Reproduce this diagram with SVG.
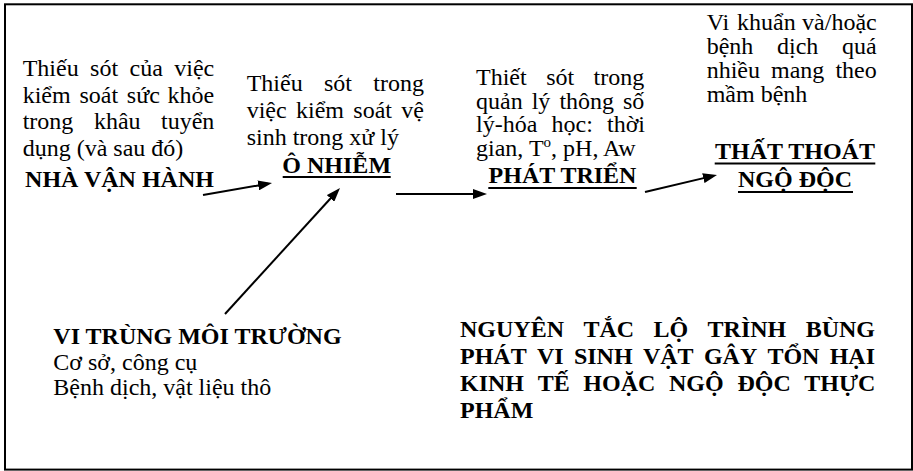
<svg xmlns="http://www.w3.org/2000/svg" width="913" height="471" viewBox="0 0 913 471">
  <style>
    text { font-family: "Liberation Serif", "Times New Roman", serif; font-size: 24px; fill: #000; }
    .b { font-weight: bold; }
    .frame { fill: #fff; stroke: #000; stroke-width: 2; }
    .ul { stroke: #000; stroke-width: 2; }
    .conn { stroke: #000; stroke-width: 2; fill: none; marker-end: url(#head); }
  </style>
  <defs>
    <marker id="head" markerUnits="userSpaceOnUse" markerWidth="14" markerHeight="10" refX="10" refY="5" orient="auto">
      <path d="M0,0 L14,5 L0,10 z" fill="#000"/>
    </marker>
  </defs>

  <rect class="frame" x="5" y="4.3" width="907" height="465.3"/>

  <!-- operator source -->
  <g id="nha-van-hanh">
    <text y="76"><tspan x="22.7">Thiếu</tspan><tspan x="90.1">sót</tspan><tspan x="129.5">của</tspan><tspan x="174.3">việc</tspan></text>
    <text y="102.7"><tspan x="22.7">kiểm</tspan><tspan x="79.4">soát</tspan><tspan x="126.8">sức</tspan><tspan x="167.6">khỏe</tspan></text>
    <text y="129.3"><tspan x="22.7">trong</tspan><tspan x="93.9">khâu</tspan><tspan x="161">tuyển</tspan></text>
    <text x="22.7" y="156">dụng (và sau đó)</text>
    <text class="b" x="119.5" y="186.5" text-anchor="middle">NHÀ VẬN HÀNH</text>
  </g>

  <!-- contamination -->
  <g id="o-nhiem">
    <text y="91"><tspan x="246.7">Thiếu</tspan><tspan x="324">sót</tspan><tspan x="373.3">trong</tspan></text>
    <text y="118"><tspan x="246.7">việc</tspan><tspan x="296">kiểm</tspan><tspan x="353.3">soát</tspan><tspan x="401.3">vệ</tspan></text>
    <text x="246.7" y="145">sinh trong xử lý</text>
    <text class="b" x="336.7" y="172.5" text-anchor="middle">Ô NHIỄM</text>
    <line class="ul" x1="282.7" y1="177" x2="390.7" y2="177"/>
  </g>

  <!-- growth -->
  <g id="phat-trien">
    <text y="85"><tspan x="476">Thiết</tspan><tspan x="546.2">sót</tspan><tspan x="593.6">trong</tspan></text>
    <text y="108.5"><tspan x="476">quản</tspan><tspan x="531.7">lý</tspan><tspan x="559.4">thông</tspan><tspan x="623">số</tspan></text>
    <text y="132"><tspan x="476">lý-hóa</tspan><tspan x="551.5">học:</tspan><tspan x="607">thời</tspan></text>
    <text x="476" y="155.5">gian, T<tspan dy="-9" font-size="15">o</tspan><tspan dy="9">, pH, Aw</tspan></text>
    <text class="b" x="562.5" y="183" text-anchor="middle">PHÁT TRIỂN</text>
    <line class="ul" x1="488.3" y1="188" x2="636.7" y2="188"/>
  </g>

  <!-- loss / poisoning -->
  <g id="that-thoat">
    <text y="30"><tspan x="706.7">Vi</tspan><tspan x="737">khuẩn</tspan><tspan x="802.1">và/hoặc</tspan></text>
    <text y="54"><tspan x="706.7">bệnh</tspan><tspan x="777">dịch</tspan><tspan x="842">quá</tspan></text>
    <text y="78"><tspan x="706.7">nhiều</tspan><tspan x="771">mang</tspan><tspan x="835.4">theo</tspan></text>
    <text x="706.7" y="102">mầm bệnh</text>
    <text class="b" x="795" y="159" text-anchor="middle">THẤT THOÁT</text>
    <line class="ul" x1="714.7" y1="163.5" x2="875.3" y2="163.5"/>
    <text class="b" x="795" y="187" text-anchor="middle">NGỘ ĐỘC</text>
    <line class="ul" x1="738" y1="192" x2="853" y2="192"/>
  </g>

  <!-- environmental microbes -->
  <g id="vi-trung">
    <text class="b" x="53.3" y="344">VI TRÙNG MÔI TRƯỜNG</text>
    <text x="53.3" y="370">Cơ sở, công cụ</text>
    <text x="53.3" y="395">Bệnh dịch, vật liệu thô</text>
  </g>

  <!-- principle caption -->
  <g id="nguyen-tac">
    <text class="b" y="337"><tspan x="460">NGUYÊN</tspan><tspan x="583.4">TẮC</tspan><tspan x="653.5">LỘ</tspan><tspan x="707.6">TRÌNH</tspan><tspan x="805.7">BÙNG</tspan></text>
    <text class="b" y="364"><tspan x="460">PHÁT</tspan><tspan x="537">VI</tspan><tspan x="573.9">SINH</tspan><tspan x="642.9">VẬT</tspan><tspan x="703.9">GÂY</tspan><tspan x="767.4">TỔN</tspan><tspan x="829.7">HẠI</tspan></text>
    <text class="b" y="391"><tspan x="460">KINH</tspan><tspan x="537.7">TẾ</tspan><tspan x="583.3">HOẶC</tspan><tspan x="669">NGỘ</tspan><tspan x="737.4">ĐỘC</tspan><tspan x="804.3">THỰC</tspan></text>
    <text class="b" x="460" y="418">PHẨM</text>
  </g>

  <g id="connectors">
    <line class="conn" x1="203" y1="195" x2="268.1" y2="183.7"/>
    <line class="conn" x1="225" y1="314" x2="337.3" y2="191"/>
    <line class="conn" x1="396" y1="194" x2="483" y2="194"/>
    <line class="conn" x1="645" y1="192" x2="713.1" y2="175.9"/>
  </g>
</svg>
